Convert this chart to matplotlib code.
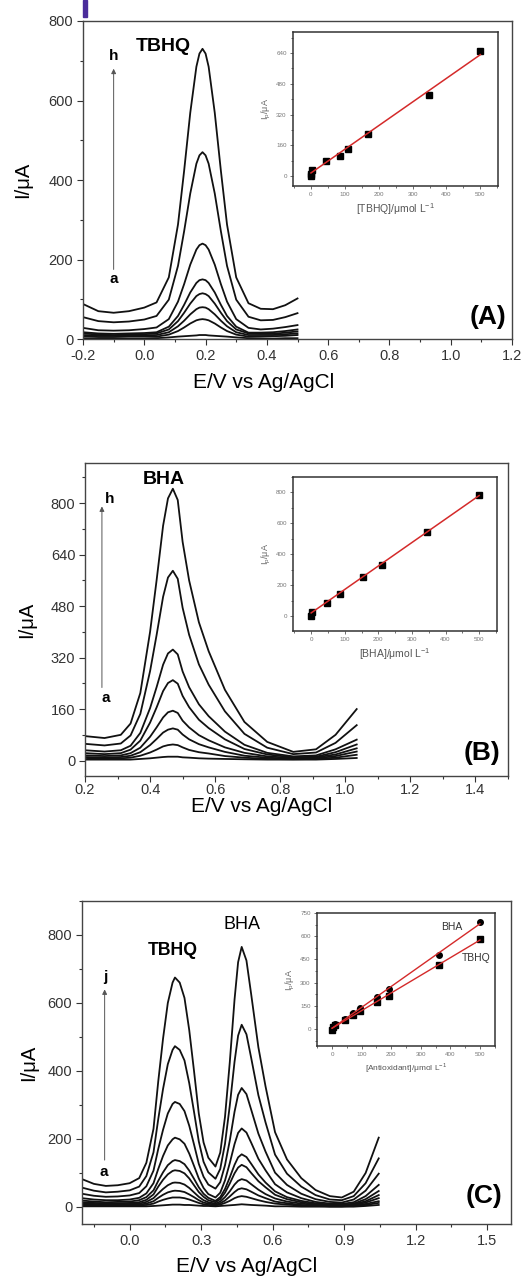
import numpy as np
import matplotlib.pyplot as plt
from matplotlib.ticker import MultipleLocator, FormatStrFormatter
from matplotlib.patches import Rectangle

plt.rcParams['font.family'] = ['Liberation Sans', 'DejaVu Sans']
plt.rcParams['axes.unicode_minus'] = False

# ---------------- panel A : TBHQ, curves a..h ----------------
E_A = [-0.2, -0.15, -0.1, -0.05, 0.0, 0.04, 0.08, 0.11, 0.13, 0.15, 0.17, 0.18,
       0.19, 0.20, 0.21, 0.23, 0.25, 0.27, 0.30, 0.34, 0.38, 0.42, 0.46, 0.5]
A_h = [88, 70, 66, 70, 79, 92, 155, 288, 423, 569, 685, 718, 730, 718, 685, 569, 423, 288, 155, 90, 76, 75, 85, 102]
A_g = [55, 45, 42, 44, 49, 58, 99, 184, 271, 366, 441, 462, 470, 462, 441, 366, 271, 184, 99, 56, 47, 48, 55, 65]
A_f = [28, 22, 21, 22, 25, 29, 50, 94, 138, 187, 225, 236, 240, 236, 225, 187, 138, 94, 50, 28, 24, 26, 30, 35]
A_e = [17, 14, 13, 14, 15, 17, 31, 58, 86, 117, 141, 148, 150, 148, 141, 117, 86, 58, 31, 16, 16, 17, 20, 24]
A_d = [14, 11, 10, 11, 12, 14, 24, 45, 66, 89, 108, 113, 115, 113, 108, 89, 66, 45, 24, 14, 13, 13, 16, 19]
A_c = [10, 8, 8, 8, 9, 10, 17, 32, 46, 62, 75, 79, 80, 79, 75, 62, 46, 32, 17, 10, 10, 10, 12, 14]
A_b = [7, 5, 5, 6, 6, 6, 11, 20, 29, 39, 47, 49, 50, 49, 47, 39, 29, 20, 11, 6, 6, 7, 8, 10]
A_a = [2, 1, 1, 1, 1, 2, 4, 6, 7, 8, 9, 10, 10, 10, 9, 8, 7, 6, 4, 2, 1, 1, 2, 2]

# inset A: calibration TBHQ
tbhq_conc = [0, 0, 3, 45, 87, 109, 169, 348, 500]
tbhq_ip = [0, 10, 33, 79, 103, 140, 217, 421, 652]
tbhq_fit_x = [0, 500]
tbhq_fit_y = [16, 632]

# ---------------- panel B : BHA, curves a..h ----------------
E_B = [0.2, 0.26, 0.31, 0.34, 0.37, 0.40, 0.42, 0.44, 0.455, 0.47, 0.485, 0.50,
       0.52, 0.55, 0.58, 0.63, 0.69, 0.76, 0.84, 0.91, 0.97, 1.035]
B_h = [76, 70, 80, 115, 210, 400, 560, 730, 815, 845, 810, 680, 560, 430, 340, 220, 120, 58, 27, 35, 80, 160]
B_g = [52, 47, 53, 78, 145, 278, 390, 509, 569, 590, 565, 475, 391, 299, 236, 153, 83, 40, 20, 25, 55, 110]
B_f = [32, 28, 32, 46, 86, 163, 228, 298, 333, 345, 330, 277, 228, 175, 138, 90, 49, 24, 13, 16, 35, 65]
B_e = [23, 20, 23, 34, 62, 118, 165, 216, 241, 250, 239, 201, 166, 127, 101, 66, 36, 19, 10, 12, 26, 50]
B_d = [16, 14, 16, 23, 40, 74, 103, 134, 150, 155, 148, 124, 103, 79, 63, 41, 24, 13, 8, 10, 19, 38]
B_c = [11, 9, 11, 15, 26, 48, 67, 87, 96, 100, 96, 81, 66, 51, 41, 27, 15, 9, 5, 7, 14, 28]
B_b = [8, 6, 7, 9, 15, 25, 34, 44, 48, 50, 48, 41, 33, 26, 22, 14, 9, 5, 4, 5, 9, 18]
B_a = [3, 3, 3, 3, 5, 7, 9, 11, 12, 12, 12, 10, 9, 7, 6, 5, 4, 3, 3, 3, 5, 8]

# inset B: calibration BHA
bha_conc = [0, 2, 46, 87, 153, 212, 344, 500]
bha_ip = [0, 28, 82, 141, 253, 333, 543, 782]
bha_fit_x = [0, 500]
bha_fit_y = [20, 780]

# ---------------- panel C : mixture, curves a..j ----------------
E_C = [-0.2, -0.15, -0.1, -0.05, 0.0, 0.04, 0.07, 0.1, 0.12, 0.14, 0.16, 0.18,
       0.19, 0.21, 0.23, 0.25, 0.27, 0.29, 0.31, 0.33, 0.36, 0.38, 0.40, 0.42,
       0.44, 0.455, 0.47, 0.49, 0.51, 0.54, 0.57, 0.61, 0.66, 0.72, 0.78, 0.84,
       0.89, 0.94, 0.99, 1.045]
C_j = [82, 68, 62, 64, 70, 85, 130, 230, 370, 495, 600, 660, 675, 660, 615, 520, 400, 275, 190, 145,
       119, 160, 265, 425, 610, 720, 765, 725, 625, 470, 355, 220, 140, 85, 50, 32, 28, 45, 100, 204]
C_i = [57, 48, 43, 45, 49, 60, 91, 161, 259, 347, 420, 462, 473, 462, 431, 364, 280, 193, 133, 102,
       83, 112, 186, 298, 427, 504, 536, 508, 438, 329, 249, 154, 98, 60, 35, 22, 20, 32, 70, 143]
C_h = [39, 33, 30, 31, 34, 41, 61, 107, 171, 227, 275, 303, 309, 303, 282, 239, 184, 127, 89, 66,
       54, 73, 123, 195, 280, 330, 350, 332, 286, 216, 163, 101, 65, 39, 23, 15, 13, 22, 48, 98]
C_g = [26, 22, 20, 20, 22, 27, 40, 70, 112, 150, 181, 199, 204, 199, 186, 157, 121, 84, 56, 38,
       28, 42, 78, 129, 185, 218, 231, 219, 189, 142, 108, 67, 43, 26, 15, 10, 9, 14, 32, 65]
C_f = [19, 16, 14, 15, 16, 20, 29, 49, 77, 102, 123, 135, 138, 135, 126, 107, 83, 58, 39, 27,
       18, 29, 53, 87, 124, 146, 155, 147, 127, 96, 72, 46, 29, 18, 11, 7, 6, 10, 23, 47]
C_e = [14, 12, 11, 11, 12, 14, 21, 37, 60, 80, 96, 106, 108, 106, 99, 84, 64, 44, 30, 20,
       14, 23, 42, 69, 99, 116, 124, 117, 100, 76, 58, 36, 23, 14, 8, 6, 5, 8, 17, 35]
C_d = [10, 9, 8, 8, 9, 10, 15, 26, 40, 53, 64, 71, 72, 71, 66, 56, 43, 30, 20, 14,
       10, 16, 29, 46, 66, 77, 82, 78, 67, 51, 38, 25, 16, 10, 6, 4, 4, 6, 13, 26]
C_c = [7, 6, 5, 5, 6, 7, 10, 17, 27, 36, 43, 47, 48, 47, 44, 37, 29, 20, 13, 10,
       7, 11, 19, 31, 44, 52, 55, 52, 45, 34, 26, 16, 11, 6, 4, 2, 2, 4, 9, 17]
C_b = [5, 4, 4, 4, 4, 5, 6, 10, 16, 21, 25, 28, 28, 28, 26, 22, 17, 12, 8, 6,
       5, 7, 12, 18, 26, 30, 32, 30, 26, 20, 15, 10, 7, 4, 3, 2, 2, 3, 6, 12]
C_a = [2, 2, 2, 2, 2, 2, 2, 3, 4, 5, 6, 7, 7, 7, 6, 6, 5, 4, 3, 3,
       2, 3, 4, 5, 6, 7, 8, 7, 6, 5, 4, 2, 2, 1, 1, 1, 1, 1, 3, 6]

# inset C: calibration of both in the mixture
mix_conc = [0, 3, 11, 45, 70, 96, 152, 191, 360, 500]
mix_bha_ip = [0, 15, 32, 65, 106, 138, 210, 259, 478, 689]
mix_tbhq_ip = [-6, 11, 26, 58, 91, 119, 177, 216, 411, 581]
mix_fit_x = [0, 500]
mix_bha_fit = [5, 680]
mix_tbhq_fit = [5, 575]

INK = '#111111'
SPINE = '#444444'
RED = '#d42a2a'

fig = plt.figure(figsize=(5.3, 12.77), dpi=100)
fig.patches.append(Rectangle((83 / 530, 1 - 17 / 1277), 4 / 530, 17 / 1277,
                             transform=fig.transFigure, color='#4b2d9b'))


def style_main(ax, xmaj, xmin, ymaj, ymin, pad=3):
    for s in ax.spines.values():
        s.set_color(SPINE)
        s.set_linewidth(1.0)
    ax.xaxis.set_major_locator(MultipleLocator(xmaj))
    ax.xaxis.set_minor_locator(MultipleLocator(xmin))
    ax.yaxis.set_major_locator(MultipleLocator(ymaj))
    ax.yaxis.set_minor_locator(MultipleLocator(ymin))
    ax.xaxis.set_major_formatter(FormatStrFormatter('%.1f'))
    ax.tick_params(which='both', direction='out', colors='#333333', width=0.8,
                   top=False, right=False)
    ax.tick_params(which='major', length=4, labelsize=10.5, pad=3)
    ax.tick_params(axis='x', which='major', pad=pad)
    ax.tick_params(which='minor', length=2.5)


def style_inset(ax, xmaj, xmin, ymaj, ymin, xlabel, xfs=7.5):
    for s in ax.spines.values():
        s.set_color('#333333')
        s.set_linewidth(1.1)
    ax.xaxis.set_major_locator(MultipleLocator(xmaj))
    ax.xaxis.set_minor_locator(MultipleLocator(xmin))
    ax.yaxis.set_major_locator(MultipleLocator(ymaj))
    ax.yaxis.set_minor_locator(MultipleLocator(ymin))
    ax.tick_params(which='both', direction='out', colors='#555555', width=0.6,
                   labelsize=4.5, labelcolor='#777777', pad=2)
    ax.tick_params(which='major', length=2.5)
    ax.tick_params(which='minor', length=1.5)
    ax.set_xlabel(xlabel, fontsize=xfs, color='#555555', labelpad=3)
    ax.set_ylabel('I$_\\mathregular{p}$/\u03bcA', fontsize=6.5, color='#666666', labelpad=2)


def arrow(ax, x, y0, y1):
    ax.annotate('', xy=(x, y1), xytext=(x, y0),
                arrowprops=dict(arrowstyle='-|>', lw=0.7, color='#555555',
                                mutation_scale=7, shrinkA=0, shrinkB=0))


def labels(ax, xl, yl):
    ax.set_xlabel('E/V vs Ag/AgCl', fontsize=15)
    ax.set_ylabel('I/\u03bcA', fontsize=14.5)
    ax.xaxis.set_label_coords(*xl)
    ax.xaxis.label.set_va('center')
    ax.yaxis.set_label_coords(*yl)
    ax.yaxis.label.set_va('center')


# ---------------- A ----------------
axA = fig.add_axes([83 / 530, 1 - 339 / 1277, 429 / 530, 318 / 1277])
for cv in [A_a, A_b, A_c, A_d, A_e, A_f, A_g, A_h]:
    axA.plot(E_A, cv, color=INK, lw=1.3)
axA.set_xlim(-0.2, 1.2)
axA.set_ylim(0, 800)
style_main(axA, 0.2, 0.1, 200, 100)
labels(axA, (0.42, -0.138), (-0.14, 0.5))
arrow(axA, -0.1, 175, 680)
axA.text(-0.1, 712, 'h', fontsize=11, fontweight='bold', ha='center', va='center')
axA.text(-0.1, 150, 'a', fontsize=11, fontweight='bold', ha='center', va='center')
axA.text(0.062, 737, 'TBHQ', fontsize=14, fontweight='bold', ha='center', va='center')
axA.text(0.988, 0.03, '(A)', transform=axA.transAxes, fontsize=19,
         fontweight='bold', ha='right', va='bottom')

inA = fig.add_axes([293 / 530, 1 - 186 / 1277, 205 / 530, 154 / 1277])
inA.plot(tbhq_conc, tbhq_ip, 's', color='black', ms=4.5, zorder=2)
inA.plot(tbhq_fit_x, tbhq_fit_y, color=RED, lw=1.1, zorder=3)
inA.set_xlim(-53, 552)
inA.set_ylim(-52, 750)
style_inset(inA, 100, 50, 160, 80, '[TBHQ]/\u03bcmol L$^\\mathregular{-1}$')

# ---------------- B ----------------
axB = fig.add_axes([85 / 530, 1 - 776 / 1277, 423 / 530, 313 / 1277])
for cv in [B_a, B_b, B_c, B_d, B_e, B_f, B_g, B_h]:
    axB.plot(E_B, cv, color=INK, lw=1.3)
axB.set_xlim(0.2, 1.5)
axB.set_ylim(-48, 925)
style_main(axB, 0.2, 0.1, 160, 80, pad=1)
labels(axB, (0.418, -0.098), (-0.137, 0.5))
arrow(axB, 0.252, 227, 790)
axB.text(0.277, 814, 'h', fontsize=11, fontweight='bold', ha='center', va='center')
axB.text(0.264, 196, 'a', fontsize=11, fontweight='bold', ha='center', va='center')
axB.text(0.443, 873, 'BHA', fontsize=14, fontweight='bold', ha='center', va='center')
axB.text(0.983, 0.035, '(B)', transform=axB.transAxes, fontsize=19,
         fontweight='bold', ha='right', va='bottom')

inB = fig.add_axes([293 / 530, 1 - 631 / 1277, 204 / 530, 154 / 1277])
inB.plot(bha_conc, bha_ip, 's', color='black', ms=4.5, zorder=2)
inB.plot(bha_fit_x, bha_fit_y, color=RED, lw=1.1, zorder=3)
inB.set_xlim(-54, 553)
inB.set_ylim(-97, 900)
style_inset(inB, 100, 50, 200, 100, '[BHA]/\u03bcmol L$^\\mathregular{-1}$')

# ---------------- C ----------------
axC = fig.add_axes([82 / 530, 1 - 1224 / 1277, 429 / 530, 323 / 1277])
for cv in [C_a, C_b, C_c, C_d, C_e, C_f, C_g, C_h, C_i, C_j]:
    axC.plot(E_C, cv, color=INK, lw=1.3)
axC.set_xlim(-0.2, 1.6)
axC.set_ylim(-50, 900)
style_main(axC, 0.3, 0.15, 200, 100)
labels(axC, (0.384, -0.133), (-0.124, 0.5))
arrow(axC, -0.105, 138, 640)
axC.text(-0.1, 676, 'j', fontsize=11, fontweight='bold', ha='center', va='center')
axC.text(-0.11, 103, 'a', fontsize=11, fontweight='bold', ha='center', va='center')
axC.text(0.18, 753, 'TBHQ', fontsize=12.7, fontweight='bold', ha='center', va='center')
axC.text(0.473, 832, 'BHA', fontsize=13, ha='center', va='center')
axC.text(0.98, 0.05, '(C)', transform=axC.transAxes, fontsize=19,
         fontweight='bold', ha='right', va='bottom')

inC = fig.add_axes([317 / 530, 1 - 1046 / 1277, 178 / 530, 133 / 1277])
inC.plot(mix_conc, mix_bha_ip, 'o', color='black', ms=4, zorder=2)
inC.plot(mix_conc, mix_tbhq_ip, 's', color='black', ms=3.8, zorder=2)
inC.plot(mix_fit_x, mix_bha_fit, color=RED, lw=1.0, zorder=3)
inC.plot(mix_fit_x, mix_tbhq_fit, color=RED, lw=1.0, zorder=3)
inC.set_xlim(-51, 551)
inC.set_ylim(-110, 750)
style_inset(inC, 100, 50, 150, 75, '[Antioxidant]/\u03bcmol L$^\\mathregular{-1}$', xfs=6)
inC.text(404, 659, 'BHA', fontsize=7.5, color='#333333', ha='center', va='center')
inC.text(487, 458, 'TBHQ', fontsize=7.5, color='#333333', ha='center', va='center')

fig.savefig('out.png', dpi=100)
